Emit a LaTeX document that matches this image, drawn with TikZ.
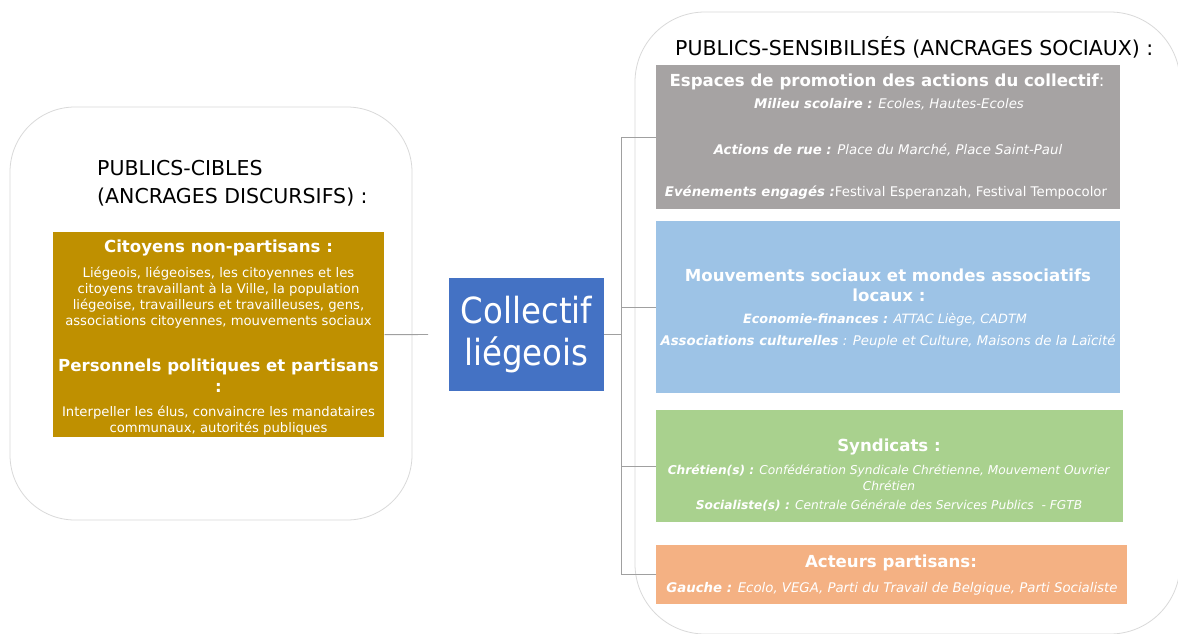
\documentclass[tikz,border=0pt]{standalone}
\usepackage{fontspec}
\setmainfont{DejaVu Sans}
\newfontfamily\condf{DejaVu Sans Condensed}
\usetikzlibrary{calc}
\definecolor{gold}{RGB}{191,144,0}
\definecolor{cblue}{RGB}{68,114,196}
\definecolor{gbox}{RGB}{166,163,163}
\definecolor{lblue}{RGB}{157,195,230}
\definecolor{lgreen}{RGB}{169,209,142}
\definecolor{lorange}{RGB}{244,177,131}
\definecolor{frame}{RGB}{217,217,217}
\definecolor{conn}{RGB}{160,160,160}
\newcommand{\hbf}{\bfseries\fontsize{16.6}{20}\selectfont}
\newcommand{\smf}{\fontsize{13.3}{16}\selectfont}
\newcommand{\sgf}{\fontsize{12.2}{15}\selectfont}
\newcommand{\bdf}{\fontsize{13.2}{16}\selectfont}
\begin{document}
\begin{tikzpicture}[x=1pt,y=-1pt,
 panel/.style={draw=frame, line width=0.8pt},
 box/.style={inner sep=0pt, anchor=north west, draw=none},
 wt/.style={text=white, inner sep=0pt, align=center},
 ttl/.style={text=black, inner sep=0pt, anchor=west, font=\fontsize{20.5}{24}\selectfont},
 link/.style={draw=conn, line width=0.9pt}]
\useasboundingbox[fill=white] (0,0) rectangle (1178,634);
% panels
\draw[panel, rounded corners=65pt] (10,107) rectangle (412,520);
\draw[panel, rounded corners=70pt] (635,12) rectangle (1180,634);
% left side
\node[ttl] (lt1) at (97,168) {PUBLICS-CIBLES};
\node[ttl] (lt2) at (97,197) {(ANCRAGES DISCURSIFS) :};
\node[box, fill=gold, minimum width=331pt, minimum height=205pt] (goldbox) at (53,232) {};
\node[wt, font=\hbf] (g1) at (218.5,248) {Citoyens non-partisans :};
\node[wt, font=\bdf] (g2) at (218.5,298) {Liégeois, liégeoises, les citoyennes et les\\citoyens travaillant à la Ville, la population\\liégeoise, travailleurs et travailleuses, gens,\\associations citoyennes, mouvements sociaux};
\node[wt, font=\bfseries\fontsize{16.6}{21}\selectfont] (g3) at (218.5,376) {Personnels politiques et partisans\\:};
\node[wt, font=\bdf] (g4) at (218.5,421) {Interpeller les élus, convaincre les mandataires\\communaux, autorités publiques};
% centre
\node[fill=cblue, text=white, inner sep=0pt, minimum width=155pt, minimum height=113pt, align=center, font=\condf\fontsize{36}{42}\selectfont] (coll) at (526.5,334.5) {Collectif\\liégeois};
% right side
\node[ttl] (rt) at (675,47) {PUBLICS-SENSIBILISÉS (ANCRAGES SOCIAUX) :};
\node[box, fill=gbox, minimum width=464pt, minimum height=144pt] (gray) at (656,65) {};
\node[box, fill=lblue, minimum width=464pt, minimum height=172pt] (blue) at (656,221) {};
\node[box, fill=lgreen, minimum width=467pt, minimum height=112pt] (green) at (656,410) {};
\node[box, fill=lorange, minimum width=471pt, minimum height=59pt] (orange) at (656,545) {};
% gray texts
\node[wt, font=\hbf] (e1) at (887,82) {Espaces de promotion des actions du collectif\textmd{:}};
\node[wt, font=\smf] (e2) at (889,104) {\textbf{\textit{Milieu scolaire :}} \textit{Ecoles, Hautes-Ecoles}};
\node[wt, font=\smf] (e3) at (888,150) {\textbf{\textit{Actions de rue :}} \textit{Place du Marché, Place Saint-Paul}};
\node[wt, font=\smf] (e4) at (886,193) {\textbf{\textit{Evénements engagés :}}Festival Esperanzah, Festival Tempocolor};
% blue texts
\node[wt, font=\hbf] (m1) at (888,275) {Mouvements sociaux et mondes associatifs};
\node[wt, font=\hbf] (m2) at (889,295) {locaux :};
\node[wt, font=\fontsize{12.8}{16}\selectfont] (m3) at (885,320) {\textbf{\textit{Economie-finances :}} \textit{ATTAC Liège, CADTM}};
\node[wt, font=\smf] (m4) at (888,342) {\textbf{\textit{Associations culturelles}} \textit{: Peuple et Culture, Maisons de la Laïcité}};
% green texts
\node[wt, font=\hbf] (s1) at (889,447) {Syndicats :};
\node[wt, font=\sgf] (s2) at (889,471) {\textbf{\textit{Chrétien(s) :}} \textit{Confédération Syndicale Chrétienne, Mouvement Ouvrier}};
\node[wt, font=\sgf] (s3) at (889,486) {\textit{Chrétien}};
\node[wt, font=\sgf] (s4) at (889,505) {\textbf{\textit{Socialiste(s) :}} \textit{Centrale Générale des Services Publics\ \ - FGTB}};
% orange texts
\node[wt, font=\hbf] (p1) at (891,563) {Acteurs partisans:};
\node[wt, font=\smf] (p2) at (892,589) {\textbf{\textit{Gauche :}} \textit{Ecolo, VEGA, Parti du Travail de Belgique, Parti Socialiste}};
% connectors
\coordinate (lend) at (428,334.5);
\coordinate (bus) at (621,334.5);
\draw[link] (goldbox.east) -- (lend);
\draw[link] (coll.east) -- (bus);
\draw[link] (gray.west -| bus) -- (orange.west -| bus);
\draw[link] (gray.west -| bus) -- (gray.west);
\draw[link] (blue.west -| bus) -- (blue.west);
\draw[link] (green.west -| bus) -- (green.west);
\draw[link] (orange.west -| bus) -- (orange.west);
\end{tikzpicture}
\end{document}
